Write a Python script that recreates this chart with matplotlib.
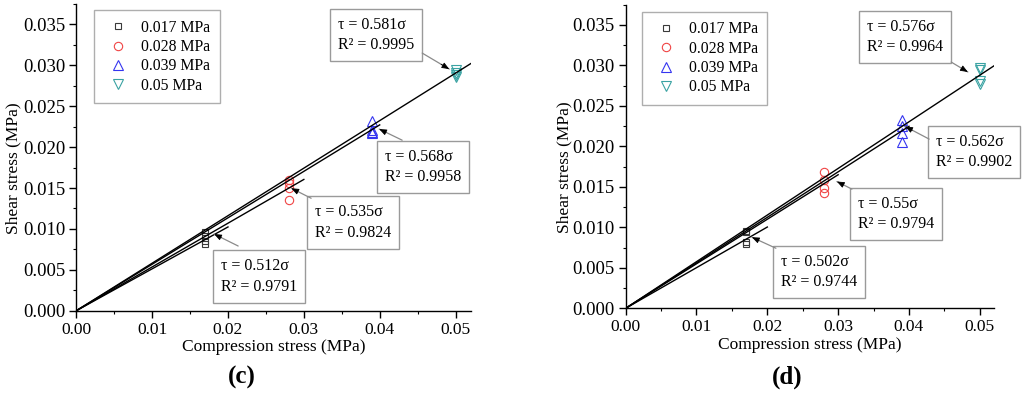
# =============================================================================
# Shear stress vs compression stress, panels (c) and (d)
# Linear fits through the origin for each normal-stress level.
# =============================================================================

import numpy as np
import matplotlib
matplotlib.use("Agg")
import matplotlib.pyplot as plt
from matplotlib.ticker import MultipleLocator, FormatStrFormatter

plt.rcParams["font.family"] = ["Liberation Serif", "DejaVu Serif"]

# --- data ---------------------------------------------------------------------
levels = ["0.017 MPa", "0.028 MPa", "0.039 MPa", "0.05 MPa"]
sigma = [0.017, 0.028, 0.039, 0.05]
fit_end = [0.02, 0.03, 0.04, 0.052]

tau_c = [
    [0.0096, 0.0091, 0.0085, 0.0081],
    [0.0160, 0.0156, 0.0150, 0.0135],
    [0.0232, 0.0221, 0.0218, 0.0217],
    [0.0294, 0.0291, 0.0288, 0.0286],
]
slope_c = [0.512, 0.535, 0.568, 0.581]
r2_c = ["0.9791", "0.9824", "0.9958", "0.9995"]

tau_d = [
    [0.0096, 0.0094, 0.0082, 0.0080],
    [0.0168, 0.0159, 0.0148, 0.0142],
    [0.0232, 0.0225, 0.0216, 0.0206],
    [0.0297, 0.0294, 0.0281, 0.0277],
]
slope_d = [0.502, 0.55, 0.562, 0.576]
r2_d = ["0.9744", "0.9794", "0.9902", "0.9964"]

# --- styles -------------------------------------------------------------------
markers = ["s", "o", "^", "v"]
colors = ["#3a3a3a", "#f04545", "#3535f0", "#3aa3a3"]
msizes = [5, 6, 6.5, 6.5]

# box centre (x, y) and arrow (tail, head) in data coordinates
boxes_c = [(0.02404, 0.00418), (0.0365, 0.01078), (0.04567, 0.01756), (0.03954, 0.03369)]
arrows_c = [((0.02134, 0.00791), (0.01817, 0.00937)),
            ((0.03096, 0.01375), (0.02835, 0.01497)),
            ((0.04296, 0.02085), (0.03993, 0.02221)),
            ((0.04560, 0.03150), (0.04917, 0.02954))]

boxes_d = [(0.02728, 0.00446), (0.03817, 0.01166), (0.04918, 0.01929), (0.03949, 0.03349)]
arrows_d = [((0.02121, 0.00742), (0.01782, 0.00878)),
            ((0.03194, 0.01472), (0.02982, 0.01566)),
            ((0.04285, 0.02090), (0.03946, 0.02246)),
            ((0.04595, 0.03042), (0.04831, 0.02919))]


def draw_panel(ax, tau, slopes, r2, boxes, arrows, legend_anchor, ylabel_xy):
    for i in range(4):
        ax.plot([sigma[i]] * len(tau[i]), tau[i], linestyle="none",
                marker=markers[i], markersize=msizes[i], markerfacecolor="none",
                markeredgecolor=colors[i], markeredgewidth=0.8, label=levels[i])
    for i in range(4):
        xs = np.array([0.0, fit_end[i]])
        ax.plot(xs, slopes[i] * xs, color="black", lw=1.0)

    for i in range(4):
        txt = f"\u03c4 = {slopes[i]:g}\u03c3\nR\u00b2 = {r2[i]}"
        ax.text(boxes[i][0], boxes[i][1], txt, ha="center", va="center",
                fontsize=11.5, linespacing=1.38, multialignment="left",
                clip_on=False,
                bbox=dict(boxstyle="square,pad=0.5", facecolor="white",
                          edgecolor="#9a9a9a", linewidth=1.0))
        tail, head = arrows[i]
        ax.annotate("", xy=head, xytext=tail,
                    arrowprops=dict(arrowstyle="-", color="#8a8a8a", lw=0.9,
                                    shrinkA=0, shrinkB=0))
        d = np.array(head) - np.array(tail)
        near = (head[0] - d[0] * 0.3, head[1] - d[1] * 0.3)
        ax.annotate("", xy=head, xytext=near,
                    arrowprops=dict(arrowstyle="-|>,head_length=0.45,head_width=0.18",
                                    color="black", lw=0.6, shrinkA=0, shrinkB=0))

    ax.set_xlim(0, 0.052)
    ax.set_ylim(0, 0.0375)
    ax.xaxis.set_major_locator(MultipleLocator(0.01))
    ax.xaxis.set_minor_locator(MultipleLocator(0.005))
    ax.yaxis.set_major_locator(MultipleLocator(0.005))
    ax.yaxis.set_minor_locator(MultipleLocator(0.0025))
    ax.xaxis.set_major_formatter(FormatStrFormatter("%.2f"))
    ax.yaxis.set_major_formatter(FormatStrFormatter("%.3f"))
    ax.spines["top"].set_visible(False)
    ax.spines["right"].set_visible(False)
    for s in ("left", "bottom"):
        ax.spines[s].set_linewidth(1.0)
    ax.tick_params(which="major", direction="out", length=5, width=1.0, pad=3)
    ax.tick_params(axis="x", which="major", labelsize=12.5)
    ax.tick_params(axis="y", which="major", labelsize=13.5)
    ax.tick_params(which="minor", direction="out", length=2.5, width=0.8)
    ax.set_xlabel("Compression stress (MPa)", fontsize=12.5, labelpad=1)
    ax.set_ylabel("Shear stress (MPa)", fontsize=12.5)
    ax.yaxis.set_label_coords(*ylabel_xy)

    leg = ax.legend(loc="upper left", bbox_to_anchor=legend_anchor,
                    fontsize=11.3, frameon=True, fancybox=False,
                    borderpad=0.6, labelspacing=0.22, handlelength=1.9,
                    handletextpad=0.5, borderaxespad=0)
    leg.get_frame().set_edgecolor("#9a9a9a")
    leg.get_frame().set_linewidth(1.0)


fig = plt.figure(figsize=(10.24, 3.93), dpi=100)
ax_c = fig.add_axes([0.0745, 0.2094, 0.3852, 0.7804])
ax_d = fig.add_axes([0.6110, 0.2155, 0.3597, 0.7725])

draw_panel(ax_c, tau_c, slope_c, r2_c, boxes_c, arrows_c,
           (0.045, 0.98), (-0.140, 0.465))
draw_panel(ax_d, tau_d, slope_d, r2_d, boxes_d, arrows_d,
           (0.044, 0.977), (-0.1436, 0.466))

fig.text(242 / 1024, 1 - 377 / 393, "(c)", ha="center", va="center",
         fontsize=18, fontweight="bold")
fig.text(787 / 1024, 1 - 377 / 393, "(d)", ha="center", va="center",
         fontsize=18, fontweight="bold")

fig.savefig("out.png", dpi=100)
